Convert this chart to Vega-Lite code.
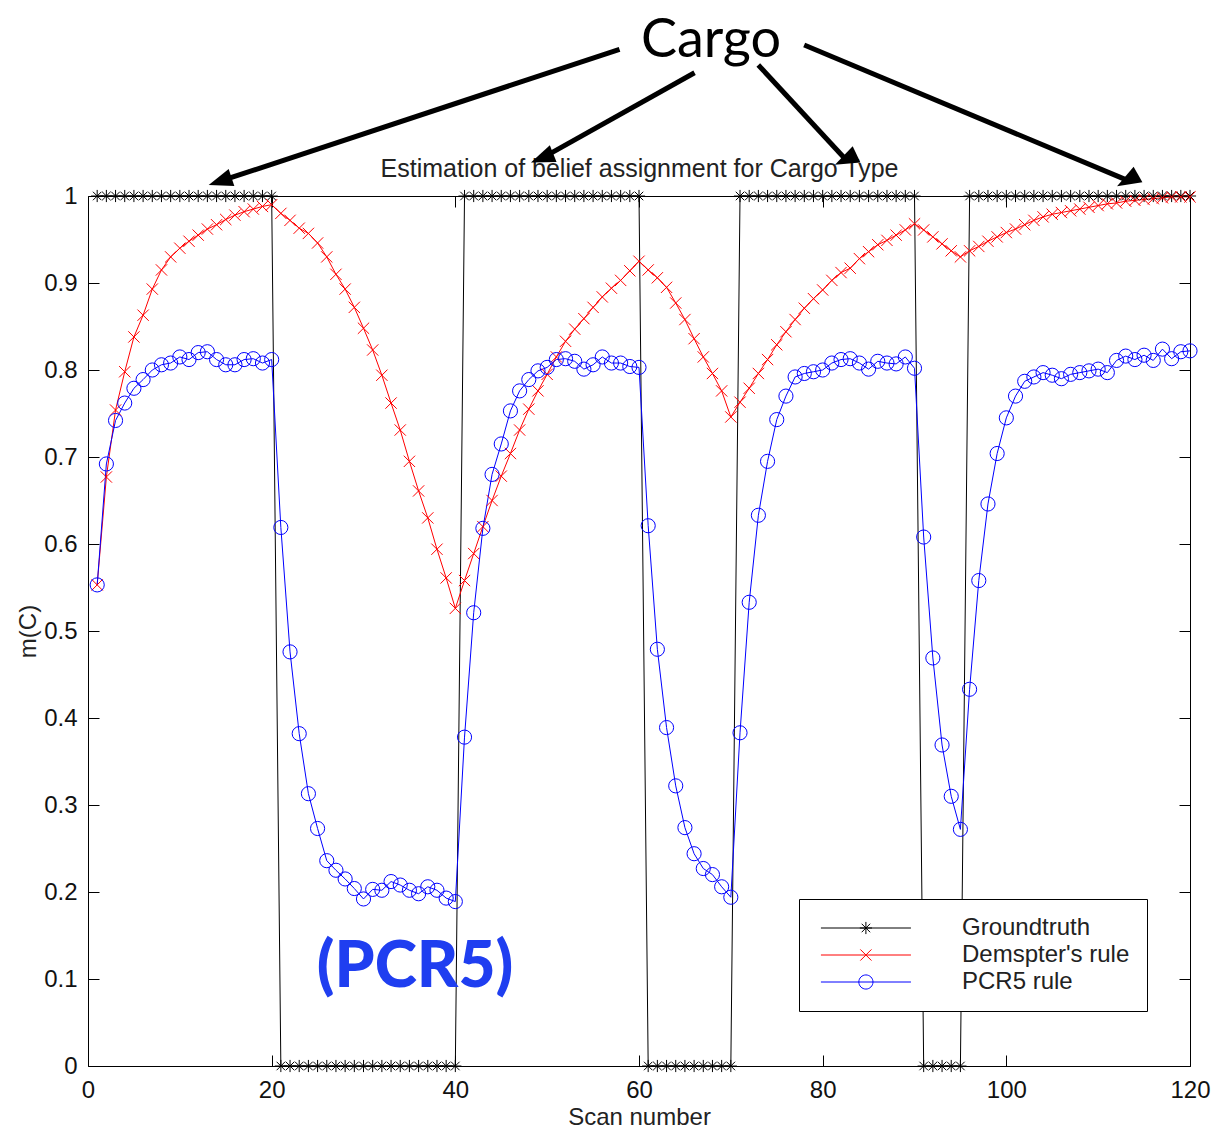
{
  "$schema": "https://vega.github.io/schema/vega-lite/v6.json",
  "width": 1102,
  "height": 870,
  "autosize": {"type": "none"},
  "padding": {"left": 88, "top": 196, "right": 24, "bottom": 64},
  "background": "white",
  "config": {
    "view": {"stroke": "black", "strokeWidth": 1},
    "axis": {"domain": false, "grid": false, "tickColor": "black", "tickSize": -11, "labelFont": "Liberation Sans", "labelFontSize": 24, "labelColor": "#111111", "labelFlush": false, "titleFont": "Liberation Sans", "titleFontSize": 24, "titleFontWeight": "normal", "titleColor": "#222222"}
  },
  "datasets": {
    "main": [
      {"scan":1,"value":1,"series":"Groundtruth"},{"scan":2,"value":1,"series":"Groundtruth"},{"scan":3,"value":1,"series":"Groundtruth"},{"scan":4,"value":1,"series":"Groundtruth"},{"scan":5,"value":1,"series":"Groundtruth"},{"scan":6,"value":1,"series":"Groundtruth"},{"scan":7,"value":1,"series":"Groundtruth"},{"scan":8,"value":1,"series":"Groundtruth"},{"scan":9,"value":1,"series":"Groundtruth"},{"scan":10,"value":1,"series":"Groundtruth"},
      {"scan":11,"value":1,"series":"Groundtruth"},{"scan":12,"value":1,"series":"Groundtruth"},{"scan":13,"value":1,"series":"Groundtruth"},{"scan":14,"value":1,"series":"Groundtruth"},{"scan":15,"value":1,"series":"Groundtruth"},{"scan":16,"value":1,"series":"Groundtruth"},{"scan":17,"value":1,"series":"Groundtruth"},{"scan":18,"value":1,"series":"Groundtruth"},{"scan":19,"value":1,"series":"Groundtruth"},{"scan":20,"value":1,"series":"Groundtruth"},
      {"scan":21,"value":0,"series":"Groundtruth"},{"scan":22,"value":0,"series":"Groundtruth"},{"scan":23,"value":0,"series":"Groundtruth"},{"scan":24,"value":0,"series":"Groundtruth"},{"scan":25,"value":0,"series":"Groundtruth"},{"scan":26,"value":0,"series":"Groundtruth"},{"scan":27,"value":0,"series":"Groundtruth"},{"scan":28,"value":0,"series":"Groundtruth"},{"scan":29,"value":0,"series":"Groundtruth"},{"scan":30,"value":0,"series":"Groundtruth"},
      {"scan":31,"value":0,"series":"Groundtruth"},{"scan":32,"value":0,"series":"Groundtruth"},{"scan":33,"value":0,"series":"Groundtruth"},{"scan":34,"value":0,"series":"Groundtruth"},{"scan":35,"value":0,"series":"Groundtruth"},{"scan":36,"value":0,"series":"Groundtruth"},{"scan":37,"value":0,"series":"Groundtruth"},{"scan":38,"value":0,"series":"Groundtruth"},{"scan":39,"value":0,"series":"Groundtruth"},{"scan":40,"value":0,"series":"Groundtruth"},
      {"scan":41,"value":1,"series":"Groundtruth"},{"scan":42,"value":1,"series":"Groundtruth"},{"scan":43,"value":1,"series":"Groundtruth"},{"scan":44,"value":1,"series":"Groundtruth"},{"scan":45,"value":1,"series":"Groundtruth"},{"scan":46,"value":1,"series":"Groundtruth"},{"scan":47,"value":1,"series":"Groundtruth"},{"scan":48,"value":1,"series":"Groundtruth"},{"scan":49,"value":1,"series":"Groundtruth"},{"scan":50,"value":1,"series":"Groundtruth"},
      {"scan":51,"value":1,"series":"Groundtruth"},{"scan":52,"value":1,"series":"Groundtruth"},{"scan":53,"value":1,"series":"Groundtruth"},{"scan":54,"value":1,"series":"Groundtruth"},{"scan":55,"value":1,"series":"Groundtruth"},{"scan":56,"value":1,"series":"Groundtruth"},{"scan":57,"value":1,"series":"Groundtruth"},{"scan":58,"value":1,"series":"Groundtruth"},{"scan":59,"value":1,"series":"Groundtruth"},{"scan":60,"value":1,"series":"Groundtruth"},
      {"scan":61,"value":0,"series":"Groundtruth"},{"scan":62,"value":0,"series":"Groundtruth"},{"scan":63,"value":0,"series":"Groundtruth"},{"scan":64,"value":0,"series":"Groundtruth"},{"scan":65,"value":0,"series":"Groundtruth"},{"scan":66,"value":0,"series":"Groundtruth"},{"scan":67,"value":0,"series":"Groundtruth"},{"scan":68,"value":0,"series":"Groundtruth"},{"scan":69,"value":0,"series":"Groundtruth"},{"scan":70,"value":0,"series":"Groundtruth"},
      {"scan":71,"value":1,"series":"Groundtruth"},{"scan":72,"value":1,"series":"Groundtruth"},{"scan":73,"value":1,"series":"Groundtruth"},{"scan":74,"value":1,"series":"Groundtruth"},{"scan":75,"value":1,"series":"Groundtruth"},{"scan":76,"value":1,"series":"Groundtruth"},{"scan":77,"value":1,"series":"Groundtruth"},{"scan":78,"value":1,"series":"Groundtruth"},{"scan":79,"value":1,"series":"Groundtruth"},{"scan":80,"value":1,"series":"Groundtruth"},
      {"scan":81,"value":1,"series":"Groundtruth"},{"scan":82,"value":1,"series":"Groundtruth"},{"scan":83,"value":1,"series":"Groundtruth"},{"scan":84,"value":1,"series":"Groundtruth"},{"scan":85,"value":1,"series":"Groundtruth"},{"scan":86,"value":1,"series":"Groundtruth"},{"scan":87,"value":1,"series":"Groundtruth"},{"scan":88,"value":1,"series":"Groundtruth"},{"scan":89,"value":1,"series":"Groundtruth"},{"scan":90,"value":1,"series":"Groundtruth"},
      {"scan":91,"value":0,"series":"Groundtruth"},{"scan":92,"value":0,"series":"Groundtruth"},{"scan":93,"value":0,"series":"Groundtruth"},{"scan":94,"value":0,"series":"Groundtruth"},{"scan":95,"value":0,"series":"Groundtruth"},{"scan":96,"value":1,"series":"Groundtruth"},{"scan":97,"value":1,"series":"Groundtruth"},{"scan":98,"value":1,"series":"Groundtruth"},{"scan":99,"value":1,"series":"Groundtruth"},{"scan":100,"value":1,"series":"Groundtruth"},
      {"scan":101,"value":1,"series":"Groundtruth"},{"scan":102,"value":1,"series":"Groundtruth"},{"scan":103,"value":1,"series":"Groundtruth"},{"scan":104,"value":1,"series":"Groundtruth"},{"scan":105,"value":1,"series":"Groundtruth"},{"scan":106,"value":1,"series":"Groundtruth"},{"scan":107,"value":1,"series":"Groundtruth"},{"scan":108,"value":1,"series":"Groundtruth"},{"scan":109,"value":1,"series":"Groundtruth"},{"scan":110,"value":1,"series":"Groundtruth"},
      {"scan":111,"value":1,"series":"Groundtruth"},{"scan":112,"value":1,"series":"Groundtruth"},{"scan":113,"value":1,"series":"Groundtruth"},{"scan":114,"value":1,"series":"Groundtruth"},{"scan":115,"value":1,"series":"Groundtruth"},{"scan":116,"value":1,"series":"Groundtruth"},{"scan":117,"value":1,"series":"Groundtruth"},{"scan":118,"value":1,"series":"Groundtruth"},{"scan":119,"value":1,"series":"Groundtruth"},{"scan":120,"value":1,"series":"Groundtruth"},

      {"scan":1,"value":0.553,"series":"Demspter's rule"},{"scan":2,"value":0.677,"series":"Demspter's rule"},{"scan":3,"value":0.754,"series":"Demspter's rule"},{"scan":4,"value":0.798,"series":"Demspter's rule"},{"scan":5,"value":0.838,"series":"Demspter's rule"},{"scan":6,"value":0.863,"series":"Demspter's rule"},{"scan":7,"value":0.893,"series":"Demspter's rule"},{"scan":8,"value":0.915,"series":"Demspter's rule"},{"scan":9,"value":0.930,"series":"Demspter's rule"},{"scan":10,"value":0.940,"series":"Demspter's rule"},
      {"scan":11,"value":0.948,"series":"Demspter's rule"},{"scan":12,"value":0.955,"series":"Demspter's rule"},{"scan":13,"value":0.962,"series":"Demspter's rule"},{"scan":14,"value":0.967,"series":"Demspter's rule"},{"scan":15,"value":0.973,"series":"Demspter's rule"},{"scan":16,"value":0.978,"series":"Demspter's rule"},{"scan":17,"value":0.982,"series":"Demspter's rule"},{"scan":18,"value":0.985,"series":"Demspter's rule"},{"scan":19,"value":0.988,"series":"Demspter's rule"},{"scan":20,"value":0.990,"series":"Demspter's rule"},
      {"scan":21,"value":0.980,"series":"Demspter's rule"},{"scan":22,"value":0.972,"series":"Demspter's rule"},{"scan":23,"value":0.963,"series":"Demspter's rule"},{"scan":24,"value":0.957,"series":"Demspter's rule"},{"scan":25,"value":0.946,"series":"Demspter's rule"},{"scan":26,"value":0.930,"series":"Demspter's rule"},{"scan":27,"value":0.910,"series":"Demspter's rule"},{"scan":28,"value":0.893,"series":"Demspter's rule"},{"scan":29,"value":0.872,"series":"Demspter's rule"},{"scan":30,"value":0.848,"series":"Demspter's rule"},
      {"scan":31,"value":0.823,"series":"Demspter's rule"},{"scan":32,"value":0.794,"series":"Demspter's rule"},{"scan":33,"value":0.762,"series":"Demspter's rule"},{"scan":34,"value":0.731,"series":"Demspter's rule"},{"scan":35,"value":0.695,"series":"Demspter's rule"},{"scan":36,"value":0.661,"series":"Demspter's rule"},{"scan":37,"value":0.630,"series":"Demspter's rule"},{"scan":38,"value":0.594,"series":"Demspter's rule"},{"scan":39,"value":0.561,"series":"Demspter's rule"},{"scan":40,"value":0.526,"series":"Demspter's rule"},
      {"scan":41,"value":0.558,"series":"Demspter's rule"},{"scan":42,"value":0.589,"series":"Demspter's rule"},{"scan":43,"value":0.620,"series":"Demspter's rule"},{"scan":44,"value":0.650,"series":"Demspter's rule"},{"scan":45,"value":0.678,"series":"Demspter's rule"},{"scan":46,"value":0.704,"series":"Demspter's rule"},{"scan":47,"value":0.731,"series":"Demspter's rule"},{"scan":48,"value":0.755,"series":"Demspter's rule"},{"scan":49,"value":0.776,"series":"Demspter's rule"},{"scan":50,"value":0.795,"series":"Demspter's rule"},
      {"scan":51,"value":0.815,"series":"Demspter's rule"},{"scan":52,"value":0.833,"series":"Demspter's rule"},{"scan":53,"value":0.847,"series":"Demspter's rule"},{"scan":54,"value":0.859,"series":"Demspter's rule"},{"scan":55,"value":0.872,"series":"Demspter's rule"},{"scan":56,"value":0.884,"series":"Demspter's rule"},{"scan":57,"value":0.894,"series":"Demspter's rule"},{"scan":58,"value":0.903,"series":"Demspter's rule"},{"scan":59,"value":0.914,"series":"Demspter's rule"},{"scan":60,"value":0.925,"series":"Demspter's rule"},
      {"scan":61,"value":0.915,"series":"Demspter's rule"},{"scan":62,"value":0.906,"series":"Demspter's rule"},{"scan":63,"value":0.895,"series":"Demspter's rule"},{"scan":64,"value":0.877,"series":"Demspter's rule"},{"scan":65,"value":0.858,"series":"Demspter's rule"},{"scan":66,"value":0.836,"series":"Demspter's rule"},{"scan":67,"value":0.815,"series":"Demspter's rule"},{"scan":68,"value":0.796,"series":"Demspter's rule"},{"scan":69,"value":0.776,"series":"Demspter's rule"},{"scan":70,"value":0.746,"series":"Demspter's rule"},
      {"scan":71,"value":0.763,"series":"Demspter's rule"},{"scan":72,"value":0.779,"series":"Demspter's rule"},{"scan":73,"value":0.796,"series":"Demspter's rule"},{"scan":74,"value":0.812,"series":"Demspter's rule"},{"scan":75,"value":0.829,"series":"Demspter's rule"},{"scan":76,"value":0.844,"series":"Demspter's rule"},{"scan":77,"value":0.858,"series":"Demspter's rule"},{"scan":78,"value":0.871,"series":"Demspter's rule"},{"scan":79,"value":0.882,"series":"Demspter's rule"},{"scan":80,"value":0.892,"series":"Demspter's rule"},
      {"scan":81,"value":0.903,"series":"Demspter's rule"},{"scan":82,"value":0.912,"series":"Demspter's rule"},{"scan":83,"value":0.917,"series":"Demspter's rule"},{"scan":84,"value":0.928,"series":"Demspter's rule"},{"scan":85,"value":0.936,"series":"Demspter's rule"},{"scan":86,"value":0.944,"series":"Demspter's rule"},{"scan":87,"value":0.949,"series":"Demspter's rule"},{"scan":88,"value":0.955,"series":"Demspter's rule"},{"scan":89,"value":0.961,"series":"Demspter's rule"},{"scan":90,"value":0.968,"series":"Demspter's rule"},
      {"scan":91,"value":0.961,"series":"Demspter's rule"},{"scan":92,"value":0.953,"series":"Demspter's rule"},{"scan":93,"value":0.945,"series":"Demspter's rule"},{"scan":94,"value":0.937,"series":"Demspter's rule"},{"scan":95,"value":0.930,"series":"Demspter's rule"},{"scan":96,"value":0.937,"series":"Demspter's rule"},{"scan":97,"value":0.942,"series":"Demspter's rule"},{"scan":98,"value":0.948,"series":"Demspter's rule"},{"scan":99,"value":0.953,"series":"Demspter's rule"},{"scan":100,"value":0.958,"series":"Demspter's rule"},
      {"scan":101,"value":0.962,"series":"Demspter's rule"},{"scan":102,"value":0.967,"series":"Demspter's rule"},{"scan":103,"value":0.972,"series":"Demspter's rule"},{"scan":104,"value":0.976,"series":"Demspter's rule"},{"scan":105,"value":0.979,"series":"Demspter's rule"},{"scan":106,"value":0.981,"series":"Demspter's rule"},{"scan":107,"value":0.983,"series":"Demspter's rule"},{"scan":108,"value":0.985,"series":"Demspter's rule"},{"scan":109,"value":0.987,"series":"Demspter's rule"},{"scan":110,"value":0.989,"series":"Demspter's rule"},
      {"scan":111,"value":0.991,"series":"Demspter's rule"},{"scan":112,"value":0.992,"series":"Demspter's rule"},{"scan":113,"value":0.994,"series":"Demspter's rule"},{"scan":114,"value":0.995,"series":"Demspter's rule"},{"scan":115,"value":0.996,"series":"Demspter's rule"},{"scan":116,"value":0.997,"series":"Demspter's rule"},{"scan":117,"value":0.998,"series":"Demspter's rule"},{"scan":118,"value":0.999,"series":"Demspter's rule"},{"scan":119,"value":0.999,"series":"Demspter's rule"},{"scan":120,"value":0.999,"series":"Demspter's rule"},

      {"scan":1,"value":0.553,"series":"PCR5 rule"},{"scan":2,"value":0.692,"series":"PCR5 rule"},{"scan":3,"value":0.742,"series":"PCR5 rule"},{"scan":4,"value":0.762,"series":"PCR5 rule"},{"scan":5,"value":0.779,"series":"PCR5 rule"},{"scan":6,"value":0.789,"series":"PCR5 rule"},{"scan":7,"value":0.800,"series":"PCR5 rule"},{"scan":8,"value":0.806,"series":"PCR5 rule"},{"scan":9,"value":0.808,"series":"PCR5 rule"},{"scan":10,"value":0.815,"series":"PCR5 rule"},
      {"scan":11,"value":0.812,"series":"PCR5 rule"},{"scan":12,"value":0.820,"series":"PCR5 rule"},{"scan":13,"value":0.821,"series":"PCR5 rule"},{"scan":14,"value":0.812,"series":"PCR5 rule"},{"scan":15,"value":0.806,"series":"PCR5 rule"},{"scan":16,"value":0.806,"series":"PCR5 rule"},{"scan":17,"value":0.812,"series":"PCR5 rule"},{"scan":18,"value":0.813,"series":"PCR5 rule"},{"scan":19,"value":0.808,"series":"PCR5 rule"},{"scan":20,"value":0.812,"series":"PCR5 rule"},
      {"scan":21,"value":0.619,"series":"PCR5 rule"},{"scan":22,"value":0.476,"series":"PCR5 rule"},{"scan":23,"value":0.382,"series":"PCR5 rule"},{"scan":24,"value":0.313,"series":"PCR5 rule"},{"scan":25,"value":0.273,"series":"PCR5 rule"},{"scan":26,"value":0.236,"series":"PCR5 rule"},{"scan":27,"value":0.225,"series":"PCR5 rule"},{"scan":28,"value":0.215,"series":"PCR5 rule"},{"scan":29,"value":0.204,"series":"PCR5 rule"},{"scan":30,"value":0.192,"series":"PCR5 rule"},
      {"scan":31,"value":0.203,"series":"PCR5 rule"},{"scan":32,"value":0.202,"series":"PCR5 rule"},{"scan":33,"value":0.212,"series":"PCR5 rule"},{"scan":34,"value":0.208,"series":"PCR5 rule"},{"scan":35,"value":0.202,"series":"PCR5 rule"},{"scan":36,"value":0.198,"series":"PCR5 rule"},{"scan":37,"value":0.206,"series":"PCR5 rule"},{"scan":38,"value":0.202,"series":"PCR5 rule"},{"scan":39,"value":0.193,"series":"PCR5 rule"},{"scan":40,"value":0.189,"series":"PCR5 rule"},
      {"scan":41,"value":0.378,"series":"PCR5 rule"},{"scan":42,"value":0.521,"series":"PCR5 rule"},{"scan":43,"value":0.618,"series":"PCR5 rule"},{"scan":44,"value":0.680,"series":"PCR5 rule"},{"scan":45,"value":0.715,"series":"PCR5 rule"},{"scan":46,"value":0.753,"series":"PCR5 rule"},{"scan":47,"value":0.776,"series":"PCR5 rule"},{"scan":48,"value":0.789,"series":"PCR5 rule"},{"scan":49,"value":0.799,"series":"PCR5 rule"},{"scan":50,"value":0.803,"series":"PCR5 rule"},
      {"scan":51,"value":0.812,"series":"PCR5 rule"},{"scan":52,"value":0.813,"series":"PCR5 rule"},{"scan":53,"value":0.810,"series":"PCR5 rule"},{"scan":54,"value":0.801,"series":"PCR5 rule"},{"scan":55,"value":0.806,"series":"PCR5 rule"},{"scan":56,"value":0.815,"series":"PCR5 rule"},{"scan":57,"value":0.808,"series":"PCR5 rule"},{"scan":58,"value":0.808,"series":"PCR5 rule"},{"scan":59,"value":0.804,"series":"PCR5 rule"},{"scan":60,"value":0.803,"series":"PCR5 rule"},
      {"scan":61,"value":0.621,"series":"PCR5 rule"},{"scan":62,"value":0.479,"series":"PCR5 rule"},{"scan":63,"value":0.389,"series":"PCR5 rule"},{"scan":64,"value":0.322,"series":"PCR5 rule"},{"scan":65,"value":0.274,"series":"PCR5 rule"},{"scan":66,"value":0.244,"series":"PCR5 rule"},{"scan":67,"value":0.227,"series":"PCR5 rule"},{"scan":68,"value":0.220,"series":"PCR5 rule"},{"scan":69,"value":0.206,"series":"PCR5 rule"},{"scan":70,"value":0.194,"series":"PCR5 rule"},
      {"scan":71,"value":0.383,"series":"PCR5 rule"},{"scan":72,"value":0.533,"series":"PCR5 rule"},{"scan":73,"value":0.633,"series":"PCR5 rule"},{"scan":74,"value":0.695,"series":"PCR5 rule"},{"scan":75,"value":0.743,"series":"PCR5 rule"},{"scan":76,"value":0.770,"series":"PCR5 rule"},{"scan":77,"value":0.792,"series":"PCR5 rule"},{"scan":78,"value":0.796,"series":"PCR5 rule"},{"scan":79,"value":0.798,"series":"PCR5 rule"},{"scan":80,"value":0.800,"series":"PCR5 rule"},
      {"scan":81,"value":0.808,"series":"PCR5 rule"},{"scan":82,"value":0.812,"series":"PCR5 rule"},{"scan":83,"value":0.813,"series":"PCR5 rule"},{"scan":84,"value":0.808,"series":"PCR5 rule"},{"scan":85,"value":0.801,"series":"PCR5 rule"},{"scan":86,"value":0.810,"series":"PCR5 rule"},{"scan":87,"value":0.808,"series":"PCR5 rule"},{"scan":88,"value":0.807,"series":"PCR5 rule"},{"scan":89,"value":0.815,"series":"PCR5 rule"},{"scan":90,"value":0.802,"series":"PCR5 rule"},
      {"scan":91,"value":0.608,"series":"PCR5 rule"},{"scan":92,"value":0.469,"series":"PCR5 rule"},{"scan":93,"value":0.369,"series":"PCR5 rule"},{"scan":94,"value":0.310,"series":"PCR5 rule"},{"scan":95,"value":0.272,"series":"PCR5 rule"},{"scan":96,"value":0.433,"series":"PCR5 rule"},{"scan":97,"value":0.558,"series":"PCR5 rule"},{"scan":98,"value":0.646,"series":"PCR5 rule"},{"scan":99,"value":0.704,"series":"PCR5 rule"},{"scan":100,"value":0.745,"series":"PCR5 rule"},
      {"scan":101,"value":0.770,"series":"PCR5 rule"},{"scan":102,"value":0.787,"series":"PCR5 rule"},{"scan":103,"value":0.792,"series":"PCR5 rule"},{"scan":104,"value":0.797,"series":"PCR5 rule"},{"scan":105,"value":0.794,"series":"PCR5 rule"},{"scan":106,"value":0.790,"series":"PCR5 rule"},{"scan":107,"value":0.795,"series":"PCR5 rule"},{"scan":108,"value":0.797,"series":"PCR5 rule"},{"scan":109,"value":0.799,"series":"PCR5 rule"},{"scan":110,"value":0.801,"series":"PCR5 rule"},
      {"scan":111,"value":0.797,"series":"PCR5 rule"},{"scan":112,"value":0.811,"series":"PCR5 rule"},{"scan":113,"value":0.816,"series":"PCR5 rule"},{"scan":114,"value":0.812,"series":"PCR5 rule"},{"scan":115,"value":0.817,"series":"PCR5 rule"},{"scan":116,"value":0.811,"series":"PCR5 rule"},{"scan":117,"value":0.824,"series":"PCR5 rule"},{"scan":118,"value":0.813,"series":"PCR5 rule"},{"scan":119,"value":0.821,"series":"PCR5 rule"},{"scan":120,"value":0.822,"series":"PCR5 rule"}
    ],
    "legendItems": [
      {"series":"Groundtruth"},{"series":"Demspter's rule"},{"series":"PCR5 rule"}
    ],
    "arrows": [
      {"arrow":"a1","x":57.88,"y":1.1686,"x2":14.385,"y2":1.01696},
      {"arrow":"a2","x":66.05,"y":1.1417,"x2":49.445,"y2":1.04352},
      {"arrow":"a3","x":72.99,"y":1.1506,"x2":82.514,"y2":1.04197},
      {"arrow":"a4","x":77.99,"y":1.1736,"x2":113.198,"y2":1.01797}
    ],
    "labels": [
      {"label":"Cargo","x":67.84,"y":1.1598}
    ],
    "pcr": [
      {"label":"(PCR5)","x":35.61,"y":0.0908}
    ]
  },
  "resolve": {"axis": {"x": "independent", "y": "independent"}, "scale": {"shape": "independent", "color": "independent"}},
  "layer": [
    {
      "data": {"name": "main"},
      "mark": {"type": "line", "strokeWidth": 1},
      "encoding": {
        "x": {"field": "scan", "type": "quantitative", "scale": {"domain": [0, 120], "nice": false, "zero": false},
              "axis": {"orient": "bottom", "title": "Scan number", "values": [0, 20, 40, 60, 80, 100, 120], "labelPadding": 23, "titlePadding": 3}},
        "y": {"field": "value", "type": "quantitative", "scale": {"domain": [0, 1], "nice": false, "zero": false},
              "axis": {"orient": "left", "title": "m(C)", "values": [0, 0.1, 0.2, 0.3, 0.4, 0.5, 0.6, 0.7, 0.8, 0.9, 1], "format": "~g", "labelPadding": 22, "titlePadding": 3}},
        "color": {"field": "series", "type": "nominal",
                  "scale": {"domain": ["Groundtruth", "Demspter's rule", "PCR5 rule"], "range": ["#000000", "#ff0000", "#0000ff"]},
                  "legend": null}
      }
    },
    {
      "data": {"name": "main"},
      "mark": {"type": "point", "filled": false, "strokeWidth": 1, "size": 200, "opacity": 1},
      "encoding": {
        "x": {"field": "scan", "type": "quantitative", "scale": {"domain": [0, 120], "nice": false, "zero": false},
              "axis": {"orient": "top", "title": "Estimation of belief assignment for Cargo Type", "titleFontSize": 25, "titleBaseline": "alphabetic", "titleY": -20, "labels": false, "values": [0, 20, 40, 60, 80, 100, 120]}},
        "y": {"field": "value", "type": "quantitative", "scale": {"domain": [0, 1], "nice": false, "zero": false},
              "axis": {"orient": "right", "title": null, "labels": false, "values": [0, 0.1, 0.2, 0.3, 0.4, 0.5, 0.6, 0.7, 0.8, 0.9, 1]}},
        "color": {"field": "series", "type": "nominal",
                  "scale": {"domain": ["Groundtruth", "Demspter's rule", "PCR5 rule"], "range": ["#000000", "#ff0000", "#0000ff"]},
                  "legend": null},
        "shape": {"field": "series", "type": "nominal",
                  "scale": {"domain": ["Groundtruth", "Demspter's rule", "PCR5 rule"], "range": ["M-0.86,0H0.86M0,-0.86V0.86M-0.6,-0.6L0.6,0.6M-0.6,0.6L0.6,-0.6", "M-0.8,-0.8L0.8,0.8M-0.8,0.8L0.8,-0.8", "circle"]},
                  "legend": null}
      }
    },
    {
      "data": {"name": "legendItems"},
      "mark": {"type": "point", "filled": false, "strokeWidth": 1, "size": 200, "opacity": 0},
      "encoding": {
        "color": {"field": "series", "type": "nominal",
                  "scale": {"domain": ["Groundtruth", "Demspter's rule", "PCR5 rule"], "range": ["#000000", "#ff0000", "#0000ff"]},
                  "legend": {"title": null, "orient": "none", "legendX": 711, "legendY": 703, "strokeColor": "black", "fillColor": "white", "padding": 17, "labelFont": "Liberation Sans", "labelFontSize": 24, "labelColor": "#222222", "labelOffset": 122, "labelLimit": 400, "symbolSize": 200, "symbolStrokeWidth": 1, "symbolOpacity": 1, "rowPadding": 3}},
        "shape": {"field": "series", "type": "nominal",
                  "scale": {"domain": ["Groundtruth", "Demspter's rule", "PCR5 rule"], "range": ["M-1,0H11.73M5.36,-0.86V0.86M4.5,0H6.22M4.76,-0.6L5.96,0.6M4.76,0.6L5.96,-0.6", "M-1,0H11.73M4.57,-0.79L6.15,0.79M4.57,0.79L6.15,-0.79", "M-1,0H11.73M4.36,0A1,1 0 1,1 6.36,0A1,1 0 1,1 4.36,0"]},
                  "legend": {"title": null, "orient": "none", "legendX": 711, "legendY": 703, "strokeColor": "black", "fillColor": "white", "padding": 17, "labelFont": "Liberation Sans", "labelFontSize": 24, "labelColor": "#222222", "labelOffset": 122, "labelLimit": 400, "symbolSize": 200, "symbolStrokeWidth": 1, "symbolOpacity": 1, "rowPadding": 3}}
      }
    },
    {
      "data": {"name": "arrows"},
      "mark": {"type": "rule", "strokeWidth": 5, "color": "black"},
      "encoding": {
        "x": {"field": "x", "type": "quantitative", "scale": {"domain": [0, 120], "nice": false, "zero": false}, "axis": null},
        "y": {"field": "y", "type": "quantitative", "scale": {"domain": [0, 1], "nice": false, "zero": false}, "axis": null},
        "x2": {"field": "x2"},
        "y2": {"field": "y2"}
      }
    },
    {
      "data": {"name": "arrows"},
      "mark": {"type": "point", "filled": true, "color": "black", "size": 576, "opacity": 1, "shape": "M0,-1L-0.75,1L0.75,1Z"},
      "encoding": {
        "x": {"field": "x2", "type": "quantitative", "scale": {"domain": [0, 120], "nice": false, "zero": false}, "axis": null},
        "y": {"field": "y2", "type": "quantitative", "scale": {"domain": [0, 1], "nice": false, "zero": false}, "axis": null},
        "angle": {"field": "arrow", "type": "nominal", "scale": {"domain": ["a1", "a2", "a3", "a4"], "range": [251.7, 240.75, 137.2, 112.7]}, "legend": null}
      }
    },
    {
      "data": {"name": "labels"},
      "mark": {"type": "text", "font": "Lato", "fontSize": 54, "color": "black", "align": "center", "baseline": "alphabetic"},
      "encoding": {
        "x": {"field": "x", "type": "quantitative", "scale": {"domain": [0, 120], "nice": false, "zero": false}, "axis": null},
        "y": {"field": "y", "type": "quantitative", "scale": {"domain": [0, 1], "nice": false, "zero": false}, "axis": null},
        "text": {"field": "label"}
      }
    },
    {
      "data": {"name": "pcr"},
      "mark": {"type": "text", "font": "Lato", "fontSize": 64, "fontWeight": 900, "color": "#1f3ef0", "align": "center", "baseline": "alphabetic"},
      "encoding": {
        "x": {"field": "x", "type": "quantitative", "scale": {"domain": [0, 120], "nice": false, "zero": false}, "axis": null},
        "y": {"field": "y", "type": "quantitative", "scale": {"domain": [0, 1], "nice": false, "zero": false}, "axis": null},
        "text": {"field": "label"}
      }
    }
  ]
}
